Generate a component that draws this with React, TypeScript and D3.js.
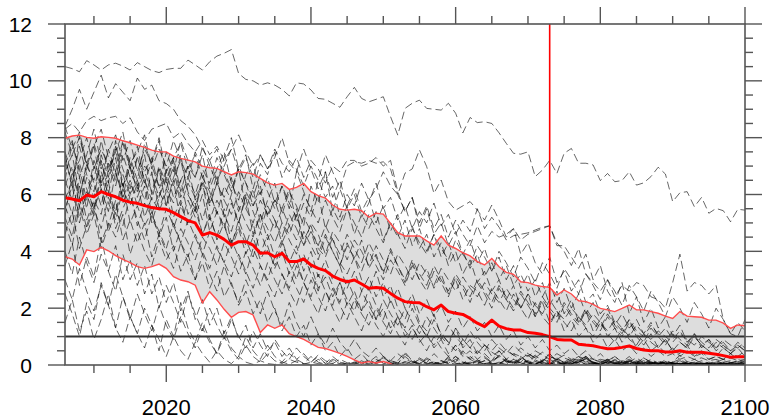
import { useEffect, useRef } from "react";
import * as d3 from "d3";

// years 2006..2100
const startYear = 2006;
const endYear = 2100;

const meanLine = [
  5.89, 5.84, 5.78, 5.98, 5.92, 6.1, 6.0, 5.92, 5.8, 5.73,
  5.69, 5.61, 5.54, 5.5, 5.48, 5.36, 5.22, 5.08, 5.0, 4.57,
  4.66, 4.57, 4.42, 4.22, 4.34, 4.34, 4.22, 3.93, 3.95, 3.81,
  3.93, 3.64, 3.64, 3.73, 3.52, 3.4, 3.32, 3.13, 3.01, 2.93,
  2.99, 2.85, 2.7, 2.73, 2.7, 2.52, 2.35, 2.23, 2.2, 2.19,
  2.05, 1.94, 2.11, 1.88, 1.82, 1.78, 1.64, 1.47, 1.35, 1.58,
  1.37, 1.28, 1.23, 1.23, 1.14, 1.12, 1.07, 1.0, 0.9, 0.88,
  0.88, 0.73, 0.7, 0.68, 0.62, 0.57, 0.58, 0.62, 0.67, 0.58,
  0.53, 0.5, 0.5, 0.46, 0.46, 0.5, 0.45, 0.45, 0.45, 0.41,
  0.38, 0.33, 0.27, 0.29, 0.29,
];

const upperLine = [
  7.98, 8.06, 8.09, 8.01, 7.98, 8.03, 8.01, 7.98, 7.89, 7.82,
  7.74, 7.66, 7.56, 7.5, 7.5, 7.35, 7.27, 7.21, 7.15, 7.0,
  6.94, 6.92, 6.8, 6.69, 6.8, 6.77, 6.72, 6.57, 6.41, 6.33,
  6.39, 6.18, 6.25, 6.39, 6.1, 5.96, 5.87, 5.63, 5.48, 5.45,
  5.48, 5.43, 5.2, 5.34, 5.31, 4.98, 4.66, 4.54, 4.54, 4.54,
  4.37, 4.22, 4.54, 4.22, 4.1, 3.95, 3.84, 3.64, 3.52, 3.75,
  3.46, 3.26, 3.19, 2.93, 2.9, 2.81, 2.76, 2.73, 2.46, 2.64,
  2.5, 2.26, 2.23, 2.13, 1.99, 1.94, 1.88, 1.99, 2.11, 1.94,
  1.94, 1.88, 1.82, 1.72, 1.64, 1.88, 1.72, 1.7, 1.68, 1.58,
  1.58, 1.47, 1.29, 1.41, 1.38,
];

// mean minus spread; goes below zero after ~2050 (clipped by the axis)
const lowerLine = [
  3.81, 3.73, 3.52, 4.05, 3.99, 4.14, 4.02, 3.85, 3.72, 3.6,
  3.46, 3.4, 3.46, 3.55, 3.4, 3.11, 2.99, 2.93, 2.81, 2.19,
  2.58, 2.29, 1.96, 1.68, 1.85, 1.88, 1.76, 1.14, 1.41, 1.29,
  1.41, 1.1, 1.0, 0.9, 0.76, 0.62, 0.58, 0.5, 0.41, 0.3,
  0.18, 0.07, 0.12, 0.07, 0.12, 0.05, -0.1, -0.2, -0.3, -0.3,
  -0.3, -0.3, -0.4, -0.3, -0.3, -0.3, -0.3, -0.3, -0.3, -0.4,
  -0.3, -0.3, -0.3, -0.3, -0.3, -0.3, -0.3, -0.3, -0.3, -0.3,
  -0.3, -0.3, -0.3, -0.3, -0.3, -0.3, -0.3, -0.3, -0.3, -0.3,
  -0.3, -0.3, -0.3, -0.3, -0.3, -0.3, -0.3, -0.3, -0.3, -0.3,
  -0.3, -0.3, -0.3, -0.3, -0.3,
];

// individual ensemble members (dashed)
const members: number[][] = [
  [10.5, 10.43, 10.32, 10.71, 10.56, 10.38, 10.56, 10.62, 10.52, 10.38,
   10.64, 10.5, 10.36, 10.29, 10.4, 10.44, 10.44, 10.73, 10.56, 10.38,
   10.67, 10.87, 10.97, 11.1, 10.26, 10.05, 10.0, 9.85, 9.93, 9.85,
   9.7, 9.47, 9.93, 9.89, 9.68, 9.38, 9.35, 9.21, 9.07, 9.44,
   9.77, 9.38, 9.26, 9.35, 9.44, 8.74, 8.09, 9.03, 9.21, 9.32,
   9.03, 9.0, 8.97, 9.21, 8.86, 8.17, 8.71, 8.53, 8.56, 8.5,
   8.17, 7.8, 7.45, 7.42, 7.5, 6.63, 6.86, 7.2, 6.74, 7.45,
   7.62, 7.1, 7.1, 7.04, 6.49, 6.74, 6.45, 6.49, 6.8, 6.33,
   6.41, 6.63, 6.96, 6.72, 5.75, 6.06, 6.1, 5.57, 5.9, 5.34,
   5.51, 5.43, 5.04, 5.48, 5.45],
  [8.4, 9.0, 9.7, 9.0, 9.6, 10.2, 9.4, 9.9, 9.6, 9.3,
   10.1, 9.7, 9.85, 9.3, 9.2, 9.0, 8.6, 8.4, 8.1, 7.6,
   7.2, 7.6, 6.8, 6.2, 6.9, 6.4, 5.6, 6.1, 5.3, 5.8,
   5.0, 4.6, 5.3, 4.4, 4.9, 4.1, 3.8, 4.5, 3.6, 3.2,
   3.8, 3.0, 2.6, 3.3, 2.4, 2.8, 2.0, 1.6, 2.3, 1.5,
   1.2, 1.8, 1.0, 0.7, 1.3, 0.6, 0.9, 0.4, 0.7, 0.3,
   0.5, 0.2, 0.4, 0.3, 0.1, 0.3, 0.2, 0.1, 0.2, 0.1,
   0.1, 0.2, 0.1, 0.05, 0.1, 0.1, 0.05, 0.1, 0.05, 0.05,
   0.1, 0.05, 0.05, 0.1, 0.05, 0.05, 0.05, 0.02, 0.05, 0.02,
   0.02, 0.05, 0.02, 0.02, 0.02],
  [8.3, 8.5, 8.2, 8.6, 8.75, 8.6, 8.7, 8.75, 8.5, 8.7,
   8.2, 7.9, 8.3, 8.4, 8.5, 8.0, 8.2, 7.8, 7.5, 7.9,
   7.4, 7.7, 7.2, 7.6, 8.1, 7.5, 7.0, 7.4, 6.9, 7.6,
   7.1, 6.8, 7.3, 6.6, 7.2, 6.9, 6.4, 7.0, 6.8, 7.2,
   7.2, 7.0, 7.1, 7.3, 7.0, 7.2, 6.1, 5.4, 5.9, 5.0,
   5.6, 4.8, 5.3, 4.5, 5.1, 4.6, 4.2, 4.9, 4.3, 4.7,
   4.5, 4.6, 4.8, 4.4, 4.6, 4.7, 4.8, 4.9, 4.3, 4.0,
   3.5, 4.1, 3.2, 2.9, 2.6, 3.0, 2.4, 2.8, 2.6, 2.9,
   2.8, 2.4, 2.3, 2.0, 2.9, 3.9, 2.6, 2.9, 2.8, 2.5,
   2.8, 1.6, 1.1, 1.0, 1.6],
  [6.5, 7.8, 6.9, 5.8, 7.2, 6.4, 7.6, 6.8, 5.9, 7.1,
   6.3, 7.4, 6.0, 6.9, 5.6, 6.6, 7.2, 6.1, 5.4, 6.5,
   5.8, 6.7, 5.2, 6.0, 6.9, 5.5, 6.2, 5.0, 5.8, 6.4,
   5.3, 6.1, 5.6, 4.9, 6.3, 5.7, 6.8, 5.4, 6.2, 5.5,
   6.0, 5.2, 5.7, 6.4, 5.5, 5.9, 5.1, 5.6, 4.8, 5.4,
   5.0, 5.7, 4.9, 5.3, 4.6, 5.1, 4.7, 5.5, 4.8, 5.2,
   4.85, 4.4, 4.55, 4.6, 4.65, 4.75, 4.85, 4.9, 4.2, 4.2,
   3.8, 3.4, 3.9, 3.0, 3.5, 2.6, 2.2, 2.9, 1.8, 2.4,
   1.5, 2.0, 1.3, 1.7, 1.0, 1.4, 0.8, 1.1, 0.6, 0.9,
   0.5, 0.7, 0.4, 0.6, 0.3],
  [7.4, 6.2, 8.1, 7.0, 6.5, 7.9, 6.8, 7.5, 8.2, 6.9,
   7.7, 6.4, 7.2, 8.0, 6.8, 7.3, 6.1, 7.0, 6.6, 7.4,
   6.2, 6.9, 7.5, 6.4, 5.8, 6.7, 7.1, 6.0, 6.6, 5.7,
   6.3, 5.5, 6.8, 6.1, 5.4, 6.5, 5.9, 6.3, 5.2, 6.0,
   5.6, 6.4, 5.8, 6.2, 6.8, 6.3, 6.0, 6.75, 6.9, 7.57,
   6.98, 6.04, 6.51, 5.75, 5.45, 5.6, 5.75, 5.45, 5.1, 5.63,
   5.1, 4.5, 4.8, 3.9, 4.3, 3.6, 3.2, 3.8, 2.9, 3.3,
   2.6, 3.0, 2.2, 2.5, 1.8, 2.1, 1.5, 1.2, 1.6, 1.0,
   0.7, 1.1, 0.6, 0.9, 0.5, 0.4, 0.7, 0.3, 0.5, 0.2,
   0.3, 0.2, 0.4, 0.2, 0.1],
  [5.2, 6.8, 5.9, 7.1, 6.4, 5.6, 6.9, 7.6, 6.2, 7.3,
   6.5, 7.8, 7.0, 6.3, 7.5, 6.8, 7.9, 7.2, 6.6, 7.7,
   7.0, 6.4, 7.3, 8.0, 6.9, 7.4, 6.2, 7.1, 6.7, 7.5,
   6.6, 7.2, 6.9, 6.3, 7.0, 6.5, 7.4, 6.8, 6.2, 7.0,
   7.15, 7.1, 7.2, 7.1, 7.15, 6.9, 6.0, 5.4, 5.9, 4.8,
   5.5, 4.6, 5.0, 4.2, 4.7, 3.9, 4.4, 3.6, 4.1, 3.3,
   3.8, 3.0, 3.5, 2.7, 3.2, 2.4, 2.9, 2.1, 2.6, 1.8,
   2.3, 1.5, 1.9, 1.2, 1.6, 1.0, 1.3, 0.8, 1.1, 0.6,
   0.9, 0.5, 0.7, 0.4, 0.6, 0.3, 0.5, 0.3, 0.4, 0.2,
   0.3, 0.2, 0.25, 0.15, 0.2],
  [8.4, 7.6, 8.2, 7.1, 7.8, 6.9, 7.5, 8.1, 7.2, 7.9,
   6.8, 7.6, 7.1, 7.9, 6.5, 7.3, 7.8, 6.9, 7.4, 6.6,
   7.2, 6.5, 7.0, 7.6, 6.8, 7.3, 6.6, 7.4, 6.9, 7.3,
   8.0, 7.1, 6.8, 7.6, 6.9, 6.2, 6.8, 5.9, 6.5, 5.6,
   6.2, 5.4, 5.9, 5.0, 5.6, 4.7, 5.3, 4.4, 4.9, 4.1,
   4.6, 3.8, 4.3, 3.5, 4.0, 3.2, 3.7, 2.9, 3.3, 2.6,
   3.0, 2.3, 2.8, 2.0, 2.5, 1.7, 2.2, 1.5, 1.9, 1.2,
   1.6, 1.0, 1.3, 0.8, 1.1, 0.6, 0.9, 0.5, 0.7, 0.4,
   0.6, 0.3, 0.5, 0.3, 0.4, 0.2, 0.3, 0.2, 0.25, 0.15,
   0.2, 0.1, 0.15, 0.1, 0.1],
  [2.5, 1.8, 1.0, 2.2, 1.6, 2.9, 2.1, 1.3, 2.4, 1.7,
   1.1, 2.0, 1.4, 0.5, 1.6, 1.0, 2.2, 1.3, 0.8, 1.5,
   0.9, 0.4, 1.2, 0.6, 0.3, 1.0, 0.5, 0.2, 0.7, 0.3,
   0.1, 0.4, 0.2, 0.05, 0.3, 0.1, 0.02, 0.15, 0.05, 0.02,
   0.05, 0.15, 0.02, 0.1, 0.3, 0.08, 0.02, 0.12, 0.05, 0.2,
   0.04, 0.1, 0.02, 0.25, 0.06, 0.02, 0.1, 0.04, 0.15, 0.03,
   0.08, 0.02, 0.12, 0.05, 0.02, 0.18, 0.06, 0.03, 0.1, 0.02,
   0.05, 0.15, 0.03, 0.08, 0.02, 0.1, 0.04, 0.02, 0.12, 0.05,
   0.02, 0.08, 0.03, 0.1, 0.02, 0.06, 0.03, 0.09, 0.02, 0.05,
   0.03, 0.07, 0.02, 0.04, 0.03],
  [6.1, 5.3, 6.6, 5.5, 7.0, 6.2, 5.4, 6.8, 5.9, 6.5,
   5.6, 6.3, 5.0, 5.9, 6.6, 5.2, 5.8, 4.9, 5.5, 4.6,
   5.3, 4.4, 5.0, 4.1, 4.8, 3.9, 4.5, 3.7, 4.2, 3.4,
   4.0, 3.2, 3.7, 2.9, 3.5, 2.7, 3.1, 2.4, 2.9, 2.1,
   2.6, 1.9, 2.3, 1.6, 2.0, 1.3, 1.7, 1.0, 1.4, 0.8,
   1.1, 0.6, 0.9, 0.4, 0.7, 0.3, 0.5, 0.2, 0.4, 0.15,
   0.3, 0.1, 0.2, 0.08, 0.15, 0.05, 0.1, 0.05, 0.08, 0.03,
   0.05, 0.1, 0.03, 0.06, 0.02, 0.05, 0.08, 0.03, 0.05, 0.02,
   0.04, 0.02, 0.06, 0.03, 0.02, 0.05, 0.02, 0.03, 0.02, 0.04,
   0.02, 0.03, 0.02, 0.01, 0.02],
  [7.0, 7.9, 6.6, 7.4, 8.3, 7.1, 6.4, 7.7, 6.9, 6.2,
   7.3, 6.5, 5.8, 6.9, 6.2, 7.0, 5.6, 6.4, 5.9, 5.1,
   6.0, 5.4, 4.8, 5.7, 5.0, 5.9, 4.6, 5.3, 4.4, 5.1,
   4.3, 4.9, 5.5, 4.2, 4.7, 3.9, 4.6, 4.0, 3.5, 4.3,
   3.7, 4.4, 3.4, 3.9, 3.2, 4.1, 3.5, 2.9, 3.6, 3.0,
   3.4, 2.7, 3.2, 2.5, 3.0, 2.3, 2.8, 2.6, 2.1, 2.7,
   2.3, 1.9, 2.5, 2.0, 1.6, 2.2, 1.7, 1.4, 1.9, 1.5,
   1.2, 1.7, 1.3, 1.0, 1.5, 1.1, 0.8, 1.3, 0.9, 0.7,
   1.1, 0.8, 0.6, 0.9, 0.5, 0.8, 0.6, 0.4, 0.7, 0.5,
   0.3, 0.6, 0.4, 0.3, 0.5],
  [5.0, 4.2, 5.6, 4.6, 5.3, 4.1, 4.9, 5.8, 4.4, 5.1,
   4.3, 5.0, 3.8, 4.6, 4.0, 3.4, 4.3, 3.6, 3.0, 3.9,
   3.2, 2.6, 3.5, 2.8, 2.2, 3.0, 2.4, 1.8, 2.6, 1.9,
   1.4, 2.2, 1.5, 1.0, 1.7, 1.1, 0.7, 1.3, 0.8, 0.5,
   0.9, 0.5, 0.3, 0.6, 0.3, 0.15, 0.4, 0.2, 0.1, 0.25,
   0.1, 0.05, 0.15, 0.08, 0.03, 0.1, 0.05, 0.02, 0.06, 0.03,
   0.05, 0.2, 0.08, 0.02, 0.15, 0.35, 0.1, 0.04, 0.2, 0.06,
   0.12, 0.03, 0.25, 0.08, 0.02, 0.15, 0.05, 0.1, 0.3, 0.06,
   0.02, 0.1, 0.04, 0.18, 0.05, 0.02, 0.12, 0.06, 0.03, 0.1,
   0.04, 0.08, 0.02, 0.06, 0.03],
  [7.5, 6.7, 7.2, 8.0, 6.9, 7.6, 7.0, 6.3, 7.4, 6.6,
   7.3, 6.8, 6.1, 7.0, 6.4, 7.2, 5.9, 6.6, 6.0, 6.8,
   5.7, 6.4, 5.9, 6.6, 5.4, 6.1, 5.6, 6.3, 5.2, 5.8,
   5.5, 6.2, 5.0, 5.7, 5.2, 6.0, 4.8, 5.5, 5.0, 5.6,
   4.6, 5.3, 4.8, 5.4, 4.4, 5.0, 4.5, 5.1, 4.2, 4.8,
   4.0, 4.6, 3.8, 4.3, 3.6, 4.0, 3.4, 3.9, 3.1, 3.6,
   3.0, 3.5, 2.8, 3.2, 2.6, 3.0, 2.4, 2.9, 2.2, 2.7,
   2.0, 2.5, 1.8, 2.2, 1.6, 2.0, 1.4, 1.8, 1.3, 1.6,
   1.1, 1.5, 1.0, 1.3, 0.9, 1.2, 0.8, 1.0, 0.7, 0.9,
   0.6, 0.8, 0.5, 0.7, 0.5],
  [4.0, 3.2, 4.5, 3.6, 2.9, 3.9, 3.3, 4.2, 3.0, 3.7,
   2.8, 3.5, 2.5, 3.1, 2.2, 2.9, 1.9, 2.6, 1.6, 2.3,
   1.4, 2.0, 1.1, 1.7, 0.9, 1.4, 0.6, 1.1, 0.5, 0.8,
   0.3, 0.6, 0.2, 0.4, 0.1, 0.3, 0.05, 0.2, 0.1, 0.03,
   0.08, 0.02, 0.15, 0.05, 0.25, 0.1, 0.03, 0.4, 0.12, 0.05,
   0.2, 0.06, 0.02, 0.15, 0.3, 0.08, 0.03, 0.18, 0.05, 0.1,
   0.35, 0.12, 0.04, 0.2, 0.06, 0.02, 0.15, 0.05, 0.25, 0.08,
   0.03, 0.12, 0.2, 0.05, 0.02, 0.1, 0.04, 0.15, 0.06, 0.02,
   0.08, 0.03, 0.12, 0.05, 0.02, 0.1, 0.04, 0.07, 0.03, 0.05,
   0.02, 0.06, 0.03, 0.04, 0.02],
  [5.5, 6.3, 5.0, 6.0, 5.3, 6.7, 5.7, 5.1, 6.2, 5.6,
   6.4, 5.2, 5.9, 5.4, 6.1, 4.8, 5.6, 5.0, 5.7, 4.6,
   5.2, 4.5, 5.5, 4.3, 4.9, 4.2, 5.0, 3.9, 4.6, 3.8,
   4.4, 3.6, 4.2, 3.3, 4.0, 3.1, 3.7, 3.0, 3.5, 2.7,
   3.3, 2.6, 3.1, 2.4, 2.9, 2.2, 2.7, 2.0, 2.5, 1.8,
   2.3, 1.7, 2.1, 1.5, 1.9, 1.3, 1.7, 1.2, 1.5, 1.0,
   1.4, 0.9, 1.2, 0.7, 1.0, 0.6, 0.9, 0.5, 0.7, 0.4,
   0.6, 0.3, 0.5, 0.2, 0.4, 0.15, 0.3, 0.1, 0.2, 0.08,
   0.15, 0.05, 0.1, 0.04, 0.08, 0.03, 0.06, 0.02, 0.05, 0.02,
   0.03, 0.02, 0.04, 0.02, 0.02],
  [6.5, 5.8, 7.1, 6.2, 5.5, 6.8, 6.0, 7.3, 5.7, 6.4,
   5.9, 6.6, 5.3, 6.1, 5.6, 6.5, 5.0, 5.8, 5.2, 6.0,
   4.7, 5.4, 4.9, 4.2, 5.1, 4.4, 3.8, 4.7, 4.0, 3.5,
   4.3, 3.6, 3.0, 3.9, 3.2, 2.6, 3.4, 2.8, 2.2, 3.0,
   2.4, 1.9, 2.7, 2.1, 1.6, 2.3, 1.7, 1.3, 2.0, 1.4,
   1.0, 1.6, 1.1, 0.8, 1.3, 0.9, 0.6, 1.0, 0.7, 0.5,
   0.8, 0.5, 0.35, 0.6, 0.4, 0.25, 0.45, 0.3, 0.2, 0.35,
   0.2, 0.15, 0.3, 0.2, 0.1, 0.2, 0.15, 0.08, 0.15, 0.1,
   0.05, 0.1, 0.08, 0.04, 0.08, 0.05, 0.03, 0.06, 0.04, 0.02,
   0.05, 0.03, 0.02, 0.04, 0.02],
  [4.6, 5.4, 4.1, 4.9, 5.7, 4.3, 5.0, 4.5, 5.3, 3.9,
   4.7, 4.0, 3.5, 4.4, 3.7, 4.2, 3.3, 3.9, 3.0, 3.6,
   2.7, 3.3, 2.4, 2.9, 2.1, 2.6, 1.8, 2.3, 1.5, 2.0,
   1.2, 1.7, 1.0, 1.4, 0.7, 1.1, 0.5, 0.8, 0.3, 0.6,
   0.2, 0.4, 0.1, 0.3, 0.05, 0.15, 0.08, 0.03, 0.1, 0.05,
   0.02, 0.12, 0.05, 0.2, 0.08, 0.03, 0.3, 0.1, 0.04, 0.15,
   0.5, 0.2, 0.06, 0.25, 0.1, 0.03, 0.15, 0.4, 0.12, 0.05,
   0.2, 0.08, 0.3, 0.1, 0.04, 0.18, 0.06, 0.02, 0.12, 0.25,
   0.08, 0.03, 0.15, 0.05, 0.1, 0.2, 0.06, 0.02, 0.1, 0.04,
   0.15, 0.05, 0.08, 0.12, 0.06],
  [6.8, 7.4, 6.0, 6.9, 7.7, 6.3, 7.1, 6.5, 7.8, 6.9,
   6.2, 7.0, 6.7, 5.9, 6.9, 6.3, 7.4, 6.0, 5.5, 6.6,
   6.1, 5.3, 6.3, 5.8, 5.0, 6.0, 5.4, 4.7, 5.6, 5.1,
   4.5, 5.3, 4.8, 4.2, 5.0, 4.6, 3.9, 4.7, 4.3, 3.7,
   4.4, 4.0, 3.5, 4.2, 3.7, 3.2, 3.9, 3.5, 3.0, 3.6,
   3.2, 2.8, 3.4, 3.0, 2.6, 3.1, 2.7, 2.4, 2.9, 2.5,
   2.2, 2.7, 2.3, 2.0, 2.5, 2.1, 1.8, 2.3, 1.9, 1.6,
   2.0, 1.7, 1.4, 1.8, 1.5, 1.2, 1.6, 1.3, 1.0, 1.4,
   1.1, 0.9, 1.2, 1.0, 0.8, 1.1, 0.9, 0.7, 1.0, 0.8,
   0.6, 0.9, 0.7, 0.6, 0.8],
  [3.0, 2.3, 3.4, 2.6, 1.9, 2.8, 2.1, 3.2, 2.4, 1.6,
   2.5, 1.8, 1.2, 2.1, 1.4, 0.9, 1.7, 1.1, 0.6, 1.3,
   0.8, 0.4, 1.0, 0.5, 0.2, 0.7, 0.3, 0.1, 0.4, 0.15,
   0.05, 0.2, 0.1, 0.03, 0.1, 0.05, 0.02, 0.06, 0.03, 0.02,
   0.1, 0.03, 0.2, 0.05, 0.02, 0.15, 0.06, 0.3, 0.1, 0.02,
   0.08, 0.4, 0.15, 0.05, 0.2, 0.06, 0.02, 0.12, 0.25, 0.08,
   0.03, 0.15, 0.05, 0.1, 0.35, 0.12, 0.04, 0.2, 0.06, 0.02,
   0.1, 0.3, 0.08, 0.03, 0.15, 0.05, 0.2, 0.06, 0.02, 0.1,
   0.25, 0.08, 0.03, 0.12, 0.05, 0.15, 0.04, 0.1, 0.03, 0.06,
   0.02, 0.08, 0.04, 0.06, 0.03],
  [5.8, 6.5, 5.2, 6.1, 5.5, 4.8, 5.9, 5.3, 6.4, 5.0,
   5.6, 4.9, 5.4, 4.5, 5.2, 4.0, 4.8, 4.3, 3.7, 4.5,
   4.1, 3.5, 4.3, 3.8, 3.2, 4.0, 3.4, 2.8, 3.6, 3.0,
   2.5, 3.3, 2.7, 2.2, 3.0, 2.4, 1.9, 2.7, 2.1, 1.6,
   2.3, 1.8, 1.4, 2.0, 1.5, 1.1, 1.7, 1.2, 0.9, 1.4,
   1.0, 0.7, 1.1, 0.8, 0.5, 0.9, 0.6, 0.4, 0.7, 0.45,
   0.3, 0.55, 0.35, 0.2, 0.4, 0.25, 0.15, 0.3, 0.2, 0.1,
   0.25, 0.15, 0.1, 0.2, 0.1, 0.05, 0.15, 0.08, 0.05, 0.1,
   0.05, 0.03, 0.08, 0.05, 0.02, 0.06, 0.03, 0.02, 0.05, 0.03,
   0.02, 0.04, 0.02, 0.03, 0.02],
  [8.2, 7.4, 8.0, 7.0, 7.7, 8.3, 7.3, 6.8, 7.9, 7.1,
   7.5, 8.1, 6.9, 7.6, 7.0, 7.9, 7.2, 6.6, 7.5, 6.9,
   6.4, 7.3, 6.7, 6.1, 7.0, 6.4, 5.9, 6.7, 6.1, 5.5,
   6.3, 5.7, 5.2, 6.0, 5.5, 5.0, 5.8, 5.2, 4.7, 5.5,
   5.0, 4.5, 5.3, 4.8, 4.3, 5.0, 4.6, 4.1, 4.8, 4.3,
   3.9, 4.6, 4.1, 3.7, 4.4, 3.9, 3.5, 4.2, 3.8, 3.3,
   4.0, 3.6, 3.1, 3.8, 3.4, 2.9, 3.6, 3.2, 2.7, 3.4,
   3.0, 2.5, 3.2, 2.8, 2.3, 3.0, 2.6, 2.1, 2.8, 2.4,
   1.9, 2.6, 2.2, 1.7, 2.4, 2.0, 1.5, 2.2, 1.8, 1.3,
   2.0, 1.6, 1.1, 1.5, 1.2],
  [5.2, 4.5, 5.9, 4.8, 5.5, 6.2, 4.7, 5.4, 4.9, 6.0,
   5.1, 4.4, 5.3, 4.7, 4.1, 5.0, 4.3, 3.8, 4.6, 4.0,
   3.4, 4.2, 3.6, 3.1, 3.9, 3.3, 2.7, 3.5, 2.9, 2.4,
   3.2, 2.6, 2.1, 2.9, 2.3, 1.8, 2.6, 2.0, 1.5, 2.2,
   1.7, 1.2, 1.9, 1.4, 1.0, 1.6, 1.1, 0.7, 1.3, 0.9,
   0.5, 1.0, 0.6, 0.3, 0.7, 0.4, 0.2, 0.5, 0.3, 0.1,
   0.3, 0.15, 0.05, 0.2, 0.1, 0.03, 0.12, 0.06, 0.02, 0.08,
   0.04, 0.15, 0.3, 0.1, 0.05, 0.2, 0.08, 0.03, 0.15, 0.06,
   0.25, 0.1, 0.04, 0.12, 0.05, 0.02, 0.1, 0.2, 0.06, 0.03,
   0.1, 0.05, 0.08, 0.12, 0.06],
  [1.5, 2.3, 1.2, 1.9, 0.9, 1.6, 2.5, 1.3, 0.8, 1.7,
   1.1, 0.6, 1.4, 0.9, 0.3, 1.0, 0.5, 0.2, 0.8, 0.4,
   0.1, 0.5, 0.2, 0.05, 0.3, 0.1, 0.02, 0.15, 0.05, 0.02,
   0.1, 0.03, 0.15, 0.05, 0.02, 0.2, 0.06, 0.3, 0.1, 0.04,
   0.15, 0.05, 0.02, 0.12, 0.25, 0.08, 0.03, 0.1, 0.04, 0.2,
   0.06, 0.02, 0.12, 0.05, 0.3, 0.1, 0.03, 0.15, 0.05, 0.02,
   0.1, 0.04, 0.2, 0.07, 0.03, 0.12, 0.05, 0.02, 0.15, 0.06,
   0.03, 0.1, 0.25, 0.08, 0.03, 0.12, 0.05, 0.02, 0.1, 0.04,
   0.08, 0.15, 0.05, 0.02, 0.1, 0.04, 0.06, 0.03, 0.08, 0.02,
   0.05, 0.03, 0.06, 0.02, 0.04],
  [6.3, 7.0, 5.6, 6.6, 5.9, 7.2, 6.1, 5.4, 6.7, 6.0,
   6.5, 5.8, 6.8, 5.5, 6.2, 5.7, 6.5, 5.3, 5.9, 6.4,
   5.1, 5.8, 5.3, 4.7, 5.6, 5.0, 4.5, 5.3, 4.8, 4.3,
   5.0, 4.4, 3.9, 4.7, 4.2, 3.7, 4.5, 4.0, 3.5, 4.2,
   3.8, 3.3, 4.0, 3.5, 3.0, 3.7, 3.3, 2.8, 3.5, 3.0,
   2.6, 3.3, 2.9, 2.4, 3.1, 2.7, 2.2, 2.9, 2.5, 2.0,
   2.7, 2.3, 1.9, 2.5, 2.1, 1.7, 2.3, 1.9, 1.5, 2.1,
   1.7, 1.4, 1.9, 1.5, 1.2, 1.7, 1.3, 1.0, 1.5, 1.1,
   0.8, 1.3, 1.0, 0.7, 1.1, 0.8, 0.6, 1.0, 0.7, 0.5,
   0.8, 0.6, 0.4, 0.7, 0.5],
  [5.6, 4.9, 6.3, 5.1, 5.8, 5.3, 6.5, 4.8, 5.5, 6.1,
   4.9, 5.7, 5.2, 4.6, 5.5, 4.9, 4.3, 5.1, 4.5, 3.9,
   4.7, 4.1, 3.6, 4.4, 3.8, 3.2, 4.1, 3.5, 3.0, 3.8,
   3.2, 2.7, 3.5, 2.9, 2.4, 3.2, 2.6, 2.1, 2.9, 2.3,
   1.9, 2.6, 2.1, 1.6, 2.3, 1.8, 1.4, 2.0, 1.5, 1.1,
   1.7, 1.3, 0.9, 1.4, 1.0, 0.7, 1.2, 0.8, 0.5, 0.9,
   0.6, 0.4, 0.7, 0.45, 0.3, 0.5, 0.35, 0.2, 0.4, 0.25,
   0.15, 0.3, 0.2, 0.1, 0.2, 0.15, 0.08, 0.15, 0.1, 0.05,
   0.1, 0.06, 0.03, 0.08, 0.05, 0.02, 0.06, 0.04, 0.02, 0.05,
   0.03, 0.02, 0.04, 0.02, 0.02],
  [7.2, 6.4, 7.7, 6.7, 6.1, 7.4, 6.6, 7.9, 6.3, 7.0,
   6.1, 6.8, 7.3, 6.2, 6.8, 5.9, 6.5, 7.0, 5.8, 6.3,
   5.6, 6.4, 5.8, 5.3, 6.1, 5.5, 5.0, 5.8, 5.3, 4.8,
   5.5, 4.9, 4.4, 5.2, 4.7, 4.2, 4.9, 4.4, 3.9, 4.6,
   4.1, 3.6, 4.3, 3.8, 3.3, 4.0, 3.5, 3.0, 3.7, 3.2,
   2.8, 3.5, 3.0, 2.6, 3.2, 2.8, 2.4, 3.0, 2.6, 2.2,
   2.8, 2.4, 2.0, 2.6, 2.2, 1.8, 2.4, 2.0, 1.7, 2.2,
   1.8, 1.5, 2.0, 1.6, 1.3, 1.8, 1.4, 1.1, 1.6, 1.2,
   1.0, 1.4, 1.1, 0.8, 1.2, 0.9, 0.7, 1.1, 0.8, 0.6,
   0.9, 0.7, 0.5, 0.8, 0.6],
  [3.5, 4.3, 2.8, 3.8, 3.1, 4.5, 3.3, 2.6, 3.9, 3.0,
   3.6, 2.5, 3.2, 2.0, 2.8, 2.2, 1.5, 2.5, 1.8, 1.2,
   2.0, 1.4, 0.9, 1.6, 1.0, 0.6, 1.2, 0.7, 0.3, 0.9,
   0.5, 0.2, 0.6, 0.3, 0.1, 0.35, 0.15, 0.05, 0.2, 0.08,
   0.03, 0.12, 0.05, 0.2, 0.08, 0.02, 0.15, 0.45, 0.15, 0.05,
   0.25, 0.1, 0.03, 0.3, 0.1, 0.5, 0.2, 0.06, 0.15, 0.05,
   0.02, 0.2, 0.08, 0.3, 0.1, 0.03, 0.12, 0.4, 0.12, 0.04,
   0.15, 0.05, 0.25, 0.08, 0.02, 0.12, 0.3, 0.1, 0.04, 0.15,
   0.05, 0.2, 0.06, 0.02, 0.1, 0.35, 0.12, 0.05, 0.15, 0.06,
   0.1, 0.2, 0.08, 0.12, 0.15],
];

const xMajorTicks = [2020, 2040, 2060, 2080, 2100];
const yMajorTicks = [0, 2, 4, 6, 8, 10, 12];
const thresholdValue = 1;
const markerYear = 2073;

function App() {
  const ref = useRef<SVGSVGElement | null>(null);

  useEffect(() => {
    const width = 773,
      height = 419;
    const margin = { top: 24, right: 28, bottom: 54, left: 65 };

    const svg = d3.select(ref.current);
    svg.selectAll("*").remove();

    const x = d3
      .scaleLinear()
      .domain([startYear, endYear])
      .range([margin.left, width - margin.right]);
    const y = d3
      .scaleLinear()
      .domain([0, 12])
      .range([height - margin.bottom, margin.top]);

    const x0 = x.range()[0],
      x1 = x.range()[1],
      y0 = y.range()[0],
      y1 = y.range()[1];

    svg
      .append("defs")
      .append("clipPath")
      .attr("id", "plot-clip")
      .append("rect")
      .attr("x", x0)
      .attr("y", y1)
      .attr("width", x1 - x0)
      .attr("height", y0 - y1);

    const plot = svg.append("g").attr("clip-path", "url(#plot-clip)");

    // shaded spread
    const area = d3
      .area<number>()
      .x((_, i) => x(startYear + i))
      .y0((_, i) => y(lowerLine[i]))
      .y1((d) => y(d));
    plot
      .append("path")
      .datum(upperLine)
      .attr("fill", "#dddddd")
      .attr("d", area);

    // members
    const line = d3
      .line<number>()
      .x((_, i) => x(startYear + i))
      .y((d) => y(d));
    plot
      .selectAll("path.member")
      .data(members)
      .enter()
      .append("path")
      .attr("class", "member")
      .attr("fill", "none")
      .attr("stroke", "#000")
      .attr("stroke-width", 0.8)
      .attr("stroke-opacity", 0.75)
      .attr("stroke-dasharray", "8,4")
      .attr("d", line);

    // band edges
    [upperLine, lowerLine].forEach((s) => {
      plot
        .append("path")
        .datum(s)
        .attr("fill", "none")
        .attr("stroke", "#ff4d4d")
        .attr("stroke-width", 1.4)
        .attr("d", line);
    });

    // ensemble mean
    plot
      .append("path")
      .datum(meanLine)
      .attr("fill", "none")
      .attr("stroke", "#ff0000")
      .attr("stroke-width", 3)
      .attr("stroke-linejoin", "round")
      .attr("d", line);

    // threshold line
    plot
      .append("line")
      .attr("x1", x0)
      .attr("x2", x1)
      .attr("y1", y(thresholdValue))
      .attr("y2", y(thresholdValue))
      .attr("stroke", "#333")
      .attr("stroke-width", 2);

    // marker year
    plot
      .append("line")
      .attr("x1", x(markerYear))
      .attr("x2", x(markerYear))
      .attr("y1", y0)
      .attr("y2", y1)
      .attr("stroke", "#ff0000")
      .attr("stroke-width", 1.6);

    // frame
    const axisColor = "#555";
    svg
      .append("rect")
      .attr("x", x0)
      .attr("y", y1)
      .attr("width", x1 - x0)
      .attr("height", y0 - y1)
      .attr("fill", "none")
      .attr("stroke", axisColor)
      .attr("stroke-width", 1.6);

    const majorLen = 17,
      minorLen = 8;
    const xMinor = d3.range(2010, 2100, 5).filter((v) => v % 20 !== 0);
    const yMinor = d3.range(0.5, 12, 0.5).filter((v) => v % 2 !== 0);

    const ticks = svg.append("g").attr("stroke", axisColor).attr("stroke-width", 1.4);
    const addX = (vals: number[], len: number) => {
      vals.forEach((v) => {
        ticks.append("line").attr("x1", x(v)).attr("x2", x(v)).attr("y1", y0).attr("y2", y0 + len);
        ticks.append("line").attr("x1", x(v)).attr("x2", x(v)).attr("y1", y1).attr("y2", y1 - len);
      });
    };
    const addY = (vals: number[], len: number) => {
      vals.forEach((v) => {
        ticks.append("line").attr("x1", x0).attr("x2", x0 - len).attr("y1", y(v)).attr("y2", y(v));
        ticks.append("line").attr("x1", x1).attr("x2", x1 + len).attr("y1", y(v)).attr("y2", y(v));
      });
    };
    addX(xMajorTicks, majorLen);
    addX(xMinor, minorLen);
    addY(yMajorTicks, majorLen);
    addY(yMinor, minorLen);

    // labels
    const font = "'Liberation Sans', Arial, Helvetica, sans-serif";
    svg
      .append("g")
      .selectAll("text")
      .data(xMajorTicks)
      .enter()
      .append("text")
      .attr("x", (d) => x(d))
      .attr("y", 415)
      .attr("text-anchor", "middle")
      .style("font-family", font)
      .style("font-size", "22px")
      .attr("fill", "#000")
      .text((d) => d);

    svg
      .append("g")
      .selectAll("text")
      .data(yMajorTicks)
      .enter()
      .append("text")
      .attr("x", 32)
      .attr("y", (d) => y(d))
      .attr("dy", "0.36em")
      .attr("text-anchor", "end")
      .style("font-family", font)
      .style("font-size", "21px")
      .attr("fill", "#000")
      .text((d) => d);
  }, []);

  return (
    <svg
      ref={ref}
      width={773}
      height={419}
      style={{ position: "absolute", left: 0, top: 0, background: "#fff" }}
    ></svg>
  );
}

export default App;
